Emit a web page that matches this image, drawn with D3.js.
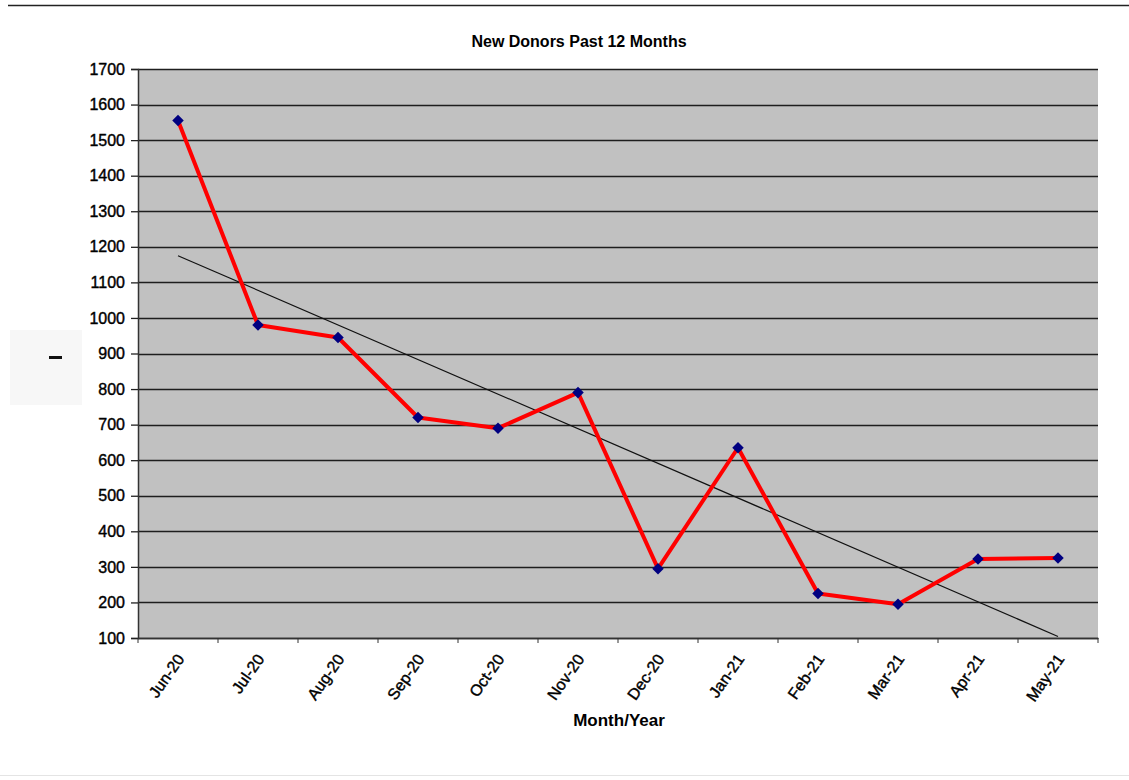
<!DOCTYPE html>
<html>
<head>
  <meta charset="utf-8">
  <title>New Donors Past 12 Months</title>
  <style>
    body { margin: 0; background: #fff; }
    svg { display: block; font-family: "Liberation Sans", Arial, sans-serif; }
  </style>
</head>
<body>
  <div id="chart"></div>

  <script src="https://d3js.org/d3.v7.min.js"></script>
  <script>
    var months = ["Jun-20", "Jul-20", "Aug-20", "Sep-20", "Oct-20", "Nov-20",
                  "Dec-20", "Jan-21", "Feb-21", "Mar-21", "Apr-21", "May-21"];
    var donors = [1555, 980, 945, 720, 690, 790, 295, 635, 225, 195, 322, 325];
    var yTicks = [100, 200, 300, 400, 500, 600, 700, 800, 900, 1000,
                  1100, 1200, 1300, 1400, 1500, 1600, 1700];

    var W = 1129, H = 780;
    var margin = {top: 69, right: 31, bottom: 142, left: 138},
        width = W - margin.left - margin.right,
        height = H - margin.top - margin.bottom;

    var svg = d3.select("#chart").append("svg")
        .attr("width", W)
        .attr("height", H);

    // frame lines of the page
    svg.append("line")
        .attr("x1", 8).attr("x2", W).attr("y1", 5.5).attr("y2", 5.5)
        .attr("stroke", "#222").attr("stroke-width", 1.5);
    svg.append("line")
        .attr("x1", 0).attr("x2", W).attr("y1", 775.5).attr("y2", 775.5)
        .attr("stroke", "#e4e4e4");

    var g = svg.append("g")
        .attr("transform", "translate(" + margin.left + "," + margin.top + ")");

    var x = d3.scaleBand().domain(months).range([0, width]);
    var y = d3.scaleLinear().domain([100, 1700]).range([height, 0]);

    // plot area
    g.append("rect")
        .attr("width", width).attr("height", height)
        .attr("fill", "#c1c1c1");

    // gridlines
    g.selectAll(".grid")
        .data(yTicks)
        .enter().append("line")
        .attr("x1", 0).attr("x2", width)
        .attr("y1", function(d) { return Math.round(y(d)) + 0.5; })
        .attr("y2", function(d) { return Math.round(y(d)) + 0.5; })
        .attr("stroke", "#1e1e1e").attr("stroke-width", 1.4);

    // y axis
    var yAxis = g.append("g")
        .call(d3.axisLeft(y).tickValues(yTicks).tickFormat(d3.format("d"))
              .tickSize(7).tickPadding(6));
    yAxis.select(".domain").attr("stroke", "#333").attr("stroke-width", 1.5);
    yAxis.selectAll(".tick line").attr("stroke", "#222").attr("stroke-width", 1.3);
    yAxis.selectAll("text")
        .attr("font-size", 16).attr("fill", "#000")
        .attr("stroke", "#000").attr("stroke-width", 0.4)
        .attr("font-family", "Liberation Sans, Arial, sans-serif");

    // x axis, ticks at band edges
    var xAxis = g.append("g")
        .attr("transform", "translate(0," + height + ")")
        .call(d3.axisBottom(x).tickSize(0));
    xAxis.select(".domain").attr("stroke", "#333").attr("stroke-width", 1.5);
    xAxis.selectAll("text")
        .attr("font-size", 16).attr("fill", "#000")
        .attr("stroke", "#000").attr("stroke-width", 0.4)
        .attr("font-family", "Liberation Sans, Arial, sans-serif")
        .attr("text-anchor", "end")
        .attr("x", 0).attr("y", 0).attr("dy", 0)
        .attr("transform", "translate(7,21) rotate(-55)");
    xAxis.selectAll(".edge")
        .data(months.concat(["end"]))
        .enter().append("line")
        .attr("class", "edge")
        .attr("x1", function(d, i) { return i * x.step(); })
        .attr("x2", function(d, i) { return i * x.step(); })
        .attr("y1", 0).attr("y2", 5)
        .attr("stroke", "#333");

    // linear trend line
    var n = donors.length;
    var mx = d3.mean(donors, function(d, i) { return i; });
    var my = d3.mean(donors);
    var sxy = d3.sum(donors, function(d, i) { return (i - mx) * (d - my); });
    var sxx = d3.sum(donors, function(d, i) { return (i - mx) * (i - mx); });
    var slope = sxy / sxx, icpt = my - slope * mx;
    g.append("line")
        .attr("x1", x(months[0]) + x.bandwidth() / 2)
        .attr("y1", y(icpt))
        .attr("x2", x(months[n - 1]) + x.bandwidth() / 2)
        .attr("y2", y(icpt + slope * (n - 1)))
        .attr("stroke", "#111").attr("stroke-width", 1.2);

    // data line
    var line = d3.line()
        .x(function(d, i) { return x(months[i]) + x.bandwidth() / 2; })
        .y(function(d) { return y(d); });
    g.append("path")
        .datum(donors)
        .attr("d", line)
        .attr("fill", "none")
        .attr("stroke", "#ff0000")
        .attr("stroke-width", 4)
        .attr("stroke-linejoin", "round");

    g.selectAll(".pt")
        .data(donors)
        .enter().append("path")
        .attr("class", "pt")
        .attr("d", d3.symbol().type(d3.symbolDiamond2).size(85))
        .attr("transform", function(d, i) {
          return "translate(" + (x(months[i]) + x.bandwidth() / 2) + "," + y(d) + ")";
        })
        .attr("fill", "#000080");

    // titles
    svg.append("text")
        .attr("x", 579).attr("y", 47)
        .attr("text-anchor", "middle")
        .attr("font-size", 16).attr("font-weight", "bold")
        .text("New Donors Past 12 Months");

    svg.append("text")
        .attr("x", 619).attr("y", 726)
        .attr("text-anchor", "middle")
        .attr("font-size", 17).attr("font-weight", "bold")
        .text("Month/Year");

    // little y axis title box
    svg.append("rect")
        .attr("x", 10).attr("y", 330).attr("width", 72).attr("height", 75)
        .attr("fill", "#f7f7f7");
    svg.append("rect")
        .attr("x", 49).attr("y", 356).attr("width", 13).attr("height", 3)
        .attr("fill", "#111");
  </script>
</body>
</html>
